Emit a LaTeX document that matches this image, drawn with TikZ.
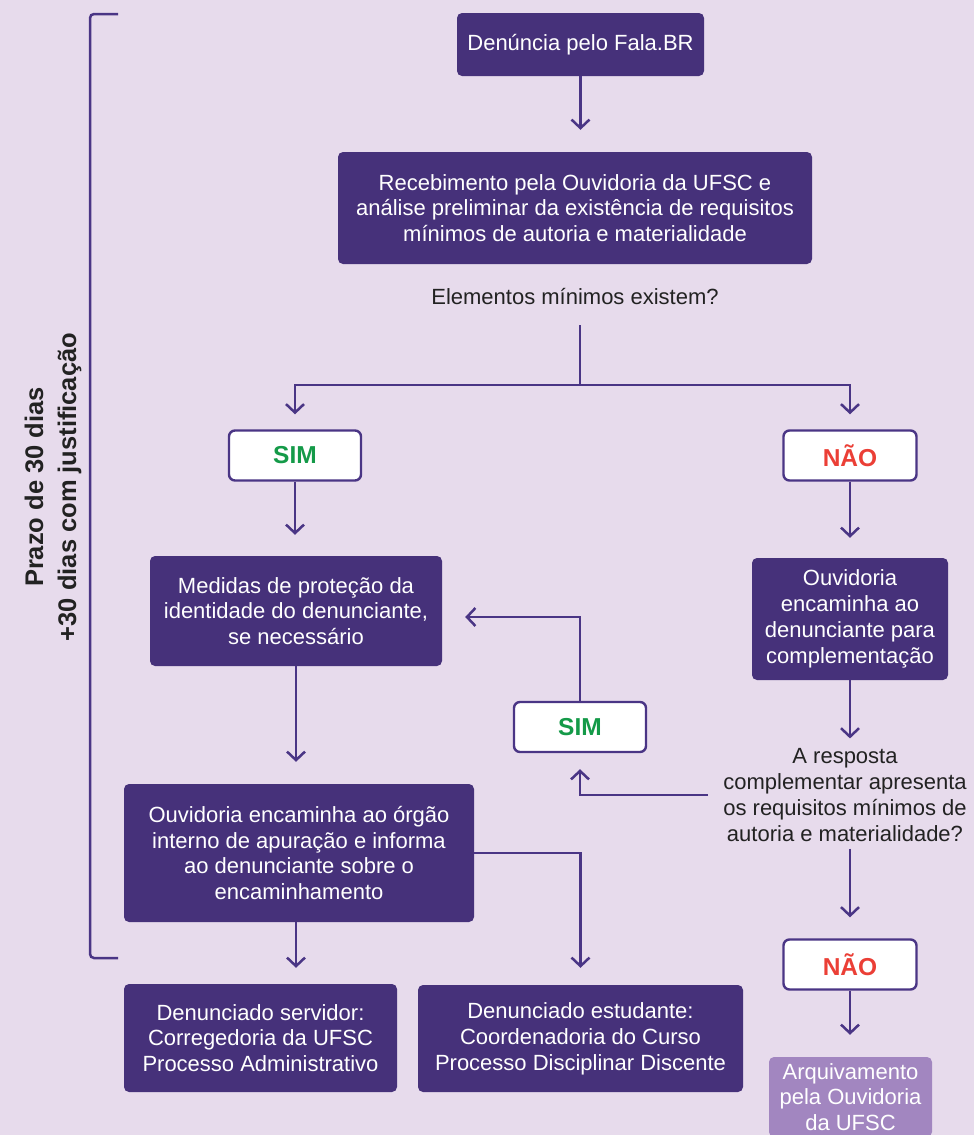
\documentclass[tikz,border=0pt]{standalone}
\usepackage{fontspec}
\setmainfont{Liberation Sans}
\usetikzlibrary{arrows.meta}
\definecolor{bgc}{HTML}{E7DBEC}
\definecolor{boxc}{HTML}{46317A}
\definecolor{linec}{HTML}{4A3585}
\definecolor{lightc}{HTML}{A286C0}
\definecolor{greenc}{HTML}{149A48}
\definecolor{redc}{HTML}{EB3F36}
\definecolor{txtc}{HTML}{222222}
\tikzset{
  darkbox/.style={fill=boxc, rounded corners=5pt, text=white, align=center, inner sep=0pt,
    font=\fontsize{22}{25.8}\selectfont},
  lightbox/.style={fill=lightc, rounded corners=5pt, text=white, align=center, inner sep=0pt,
    font=\fontsize{22}{25.2}\selectfont},
  answerbox/.style={fill=white, draw=linec, line width=2.4pt, rounded corners=6pt, inner sep=0pt,
    font=\fontsize{24.5}{28}\selectfont\bfseries, minimum width=132pt, minimum height=50pt},
  question/.style={text=txtc, align=center, inner sep=0pt, font=\fontsize{22}{25.8}\selectfont},
  conn/.style={draw=linec, line width=2.5pt},
  arr/.style={conn, -{Straight Barb[length=8.5pt,width=18pt]}},
}
\begin{document}
\begin{tikzpicture}[x=1pt,y=-1pt]
\useasboundingbox[fill=bgc] (0,0) rectangle (974,1135);

% bracket and period label
\coordinate (brtop) at (118,14);
\coordinate (brbot) at (118,958);
\draw[conn, rounded corners=4pt] (brtop) -- (90,14) -- (90,958) -- (brbot);
\node[rotate=90, align=center, text=txtc, inner sep=0pt, font=\fontsize{25.5}{33}\selectfont\bfseries]
  (prazo) at (53,487) {Prazo de 30 dias\\+30 dias com justificação};

% nodes
\node[darkbox, minimum width=247pt, minimum height=63pt] (b1) at (580.5,44.5) {Denúncia pelo Fala.BR};
\node[darkbox, minimum width=474pt, minimum height=112pt] (b2) at (575,208)
  {Recebimento pela Ouvidoria da UFSC e\\análise preliminar da existência de requisitos\\mínimos de autoria e materialidade};
\node[question] (q1) at (575,297) {Elementos mínimos existem?};
\coordinate (b0) at (580,325);
\coordinate (split) at (580,385);
\node[answerbox, text=greenc] (sim1) at (295,455.5) {SIM};
\node[answerbox, text=redc, minimum width=133pt] (nao1) at (850,455.5) {NÃO};
\node[darkbox, minimum width=292pt, minimum height=110pt] (med) at (296,611)
  {Medidas de proteção da\\identidade do denunciante,\\se necessário};
\node[darkbox, minimum width=196pt, minimum height=122pt] (ouvc) at (850,619)
  {Ouvidoria\\encaminha ao\\denunciante para\\complementação};
\node[question] (q2) at (845,795)
  {A resposta\\complementar apresenta\\os requisitos mínimos de\\autoria e materialidade?};
\node[answerbox, text=greenc] (sim2) at (580,727) {SIM};
\node[darkbox, minimum width=350pt, minimum height=138pt] (ouv2) at (299,853)
  {Ouvidoria encaminha ao órgão\\interno de apuração e informa\\ao denunciante sobre o\\encaminhamento};
\node[answerbox, text=redc, minimum width=133pt] (nao2) at (850,964.5) {NÃO};
\node[darkbox, minimum width=273pt, minimum height=108pt] (serv) at (260.5,1038)
  {Denunciado servidor:\\Corregedoria da UFSC\\Processo Administrativo};
\node[darkbox, minimum width=325pt, minimum height=107pt] (estud) at (580.5,1038.5)
  {Denunciado estudante:\\Coordenadoria do Curso\\Processo Disciplinar Discente};
\node[lightbox, minimum width=163pt, minimum height=80pt] (arq) at (850.5,1097)
  {Arquivamento\\pela Ouvidoria\\da UFSC};

% connectors
\draw[arr, shorten >=22pt] (b1.south) -- (b2.north -| b1.south);
\draw[conn] (b0) -- (split);
\draw[arr, shorten >=15pt] (split) -| (sim1.north);
\draw[arr, shorten >=15pt] (split) -| (nao1.north);
\draw[arr, shorten >=21pt] (sim1.south) -- (med.north -| sim1.south);
\draw[arr, shorten >=20pt] (nao1.south) -- (ouvc.north);
\draw[arr, shorten >=10pt] (ouvc.south) -- (q2.north -| ouvc.south);
\draw[arr, shorten <=7pt, shorten >=21pt] (q2.south -| nao2.north) -- (nao2.north);
\draw[arr, shorten >=22pt] (nao2.south) -- (arq.north -| nao2.south);
\draw[arr, shorten >=16pt] ([xshift=-15pt]q2.west) -| (sim2.south);
\draw[arr, shorten >=23pt] (sim2.north) |- ([yshift=-6pt]med.east);
\draw[arr, shorten >=22pt] (med.south) -- (ouv2.north -| med.south);
\draw[arr, shorten >=16pt] (ouv2.south -| med.south) -- (serv.north -| med.south);
\draw[arr, shorten >=17pt] (ouv2.east) -| (estud.north);
\end{tikzpicture}
\end{document}
